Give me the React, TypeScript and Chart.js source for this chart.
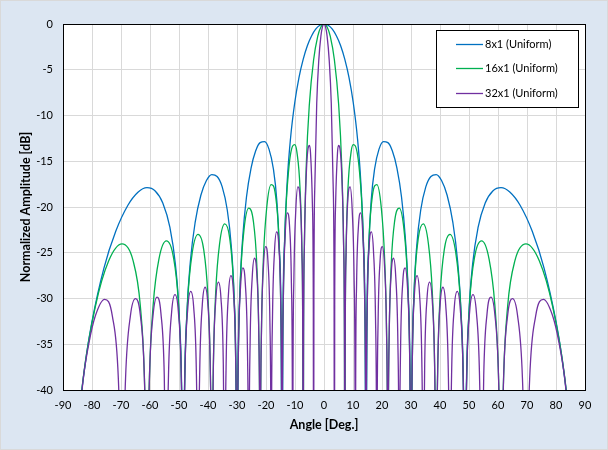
import React, { useEffect, useRef } from 'react';
import { Chart, registerables } from 'chart.js';

Chart.register(...registerables);

// Series labels and colours
const seriesLabels = ['8x1 (Uniform)', '16x1 (Uniform)', '32x1 (Uniform)'];
const seriesColors = ['#0070C0', '#00B050', '#7030A0'];

// Axis ranges / ticks
const xMin = -90;
const xMax = 90;
const xStep = 10;
const yMin = -40;
const yMax = 0;
const yStep = 5;
const xTitle = 'Angle [Deg.]';
const yTitle = 'Normalized Amplitude [dB]';

// Values (positive half; the pattern is symmetric about 0°)
// Angle [deg]
const angles8 = [
  0, 1.43, 2.87, 4.3, 5.74, 7.18, 8.63, 10.08, 11.54, 12.71, 13.59, 14.18, 14.48,
  14.77, 15.37, 16.26, 17.46, 18.97, 20.49, 22.02, 23.58, 25.15, 26.74, 28.03, 29.02, 29.67, 30.0,
  30.33, 31.0, 32.01, 33.37, 35.1, 36.87, 38.68, 40.54, 42.46, 44.43, 46.06, 47.31, 48.16, 48.59,
  49.03, 49.91, 51.26, 53.13, 55.59, 58.21, 61.04, 64.16, 67.67, 71.81, 75.93, 80.06, 81.89, 84.27, 90,
];
// Amplitude [dB]
const db8 = [
  0, -0.14, -0.57, -1.31, -2.38, -3.87, -5.86, -8.58, -12.48, -17.34, -23.75, -33.59, -60,
  -33.92, -24.75, -19.33, -15.82, -13.68, -12.86, -12.96, -13.88, -15.74, -18.93, -23.3, -29.39, -39.02, -60,
  -39.16, -29.8, -24.12, -20.3, -17.8, -16.66, -16.46, -17.11, -18.72, -21.68, -25.87, -31.84, -41.39, -60,
  -41.44, -32.01, -26.21, -22.24, -19.57, -18.25, -17.89, -18.39, -19.84, -22.66, -26.73, -32.61, -36.1, -42.1, -60,
];

const angles16 = [
  0, 1.07, 2.15, 3.58, 5.02, 6.1, 6.75, 7.04, 7.18,
  7.33, 7.61, 8.27, 9.35, 10.08, 10.81, 12.27, 13.37, 14.03, 14.33, 14.48,
  14.63, 14.92, 15.59, 16.71, 18.21, 19.73, 20.87, 21.56, 21.87, 22.02,
  22.18, 22.49, 23.19, 24.36, 25.94, 27.55, 28.77, 29.51, 29.84, 30.0,
  30.17, 30.5, 31.25, 32.52, 34.23, 35.98, 37.32, 38.13, 38.5, 38.68,
  38.87, 39.24, 40.08, 41.49, 43.43, 45.44, 46.99, 47.95, 48.38, 48.59,
  48.81, 49.24, 50.24, 51.95, 54.34, 56.89, 58.91, 60.18, 60.75, 61.04,
  61.34, 61.94, 63.33, 65.86, 69.64, 74.27, 78.89, 83.02, 85.94, 90,
];
const db16 = [
  0, -0.32, -1.32, -3.91, -8.66, -15.35, -23.9, -33.76, -60,
  -34.1, -24.94, -17.95, -13.97, -13.19, -13.34, -16.23, -21.95, -30.04, -39.7, -60,
  -39.86, -30.53, -23.19, -18.72, -17.55, -20.0, -25.44, -33.37, -42.97, -60,
  -43.07, -33.68, -26.21, -21.54, -20.13, -22.37, -27.67, -35.52, -45.08, -60,
  -45.15, -35.72, -28.18, -23.4, -21.85, -23.96, -29.16, -36.96, -46.5, -60,
  -46.54, -37.1, -29.51, -24.64, -22.99, -25.0, -30.14, -37.9, -47.42, -60,
  -47.45, -37.99, -30.36, -25.43, -23.7, -25.64, -30.72, -38.44, -47.95, -60,
  -47.96, -38.48, -30.82, -25.84, -24.04, -25.91, -30.94, -38.63, -48.12, -60,
];

const angles32 = [
  0, 0.54, 1.07, 1.79, 2.51, 3.15, 3.48, 3.58,
  3.69, 4.01, 4.66, 5.02, 5.38, 6.1, 6.75, 7.07, 7.18,
  7.29, 7.61, 8.27, 8.99, 9.72, 10.37, 10.7, 10.81,
  10.92, 11.24, 11.9, 12.64, 13.37, 14.03, 14.37, 14.48,
  14.59, 14.92, 15.59, 16.34, 17.08, 17.76, 18.1, 18.21,
  18.32, 18.66, 19.34, 20.11, 20.87, 21.56, 21.91, 22.02,
  22.14, 22.49, 23.19, 23.97, 24.75, 25.47, 25.83, 25.94,
  26.07, 26.43, 27.15, 27.95, 28.77, 29.51, 29.88, 30.0,
  30.12, 30.5, 31.25, 32.09, 32.94, 33.71, 34.1, 34.23,
  34.37, 34.75, 35.54, 36.42, 37.32, 38.13, 38.54, 38.68,
  38.82, 39.24, 40.08, 41.01, 41.97, 42.84, 43.29, 43.43,
  43.58, 44.03, 44.93, 45.95, 46.99, 47.95, 48.43, 48.59,
  48.75, 49.24, 50.24, 51.38, 52.54, 53.62, 54.17, 54.34,
  54.54, 55.08, 56.23, 57.55, 58.91, 60.18, 60.83, 61.04,
  61.26, 61.94, 63.33, 64.99, 66.75, 68.43, 69.33, 69.64,
  69.95, 70.92, 72.98, 75.64, 78.89, 80.96, 83.02, 86.49, 90,
];
const db32 = [
  0, -0.32, -1.33, -3.92, -8.68, -17.5, -30.19, -60,
  -30.71, -19.59, -14.04, -13.27, -13.43, -16.35, -24.06, -36.31, -60,
  -36.57, -25.09, -18.94, -17.81, -20.31, -27.69, -39.8, -60,
  -39.97, -28.37, -22.0, -20.65, -22.95, -30.19, -42.22, -60,
  -42.35, -30.68, -24.19, -22.72, -24.91, -32.06, -44.05, -60,
  -44.15, -32.44, -25.87, -24.32, -26.44, -33.52, -45.49, -60,
  -45.57, -33.83, -27.21, -25.6, -27.67, -34.7, -46.65, -60,
  -46.71, -34.95, -28.29, -26.65, -28.67, -35.67, -47.6, -60,
  -47.65, -35.87, -29.18, -27.5, -29.49, -36.46, -48.38, -60,
  -48.42, -36.63, -29.91, -28.2, -30.16, -37.11, -49.01, -60,
  -49.05, -37.25, -30.51, -28.77, -30.71, -37.64, -49.53, -60,
  -49.56, -37.75, -30.98, -29.23, -31.15, -38.05, -49.94, -60,
  -49.96, -38.14, -31.36, -29.58, -31.48, -38.37, -50.24, -60,
  -50.26, -38.43, -31.63, -29.84, -31.72, -38.59, -50.46, -60,
  -50.47, -38.64, -31.82, -30.01, -31.87, -38.73, -50.59, -60,
  -50.59, -38.75, -31.92, -30.09, -31.94, -34.7, -38.78, -50.63, -60,
];

function symmetric(angles: number[], db: number[]) {
  const pts: { x: number; y: number }[] = [];
  for (let i = angles.length - 1; i > 0; i--) pts.push({ x: -angles[i], y: db[i] });
  for (let i = 0; i < angles.length; i++) pts.push({ x: angles[i], y: db[i] });
  return pts;
}

const FONT = 'Lato, "Liberation Sans", sans-serif';

const framePlugin = {
  id: 'frame',
  beforeDraw(chart: any) {
    const { ctx, width, height, chartArea: a } = chart;
    ctx.save();
    ctx.fillStyle = '#DCE6F2';
    ctx.fillRect(0, 0, width, height);
    ctx.strokeStyle = '#D9D9D9';
    ctx.lineWidth = 1;
    ctx.strokeRect(0.5, 0.5, width - 1, height - 1);
    ctx.fillStyle = '#FFFFFF';
    ctx.fillRect(a.left, a.top, a.right - a.left, a.bottom - a.top);
    ctx.restore();
  },
  afterDraw(chart: any) {
    const { ctx, chartArea: a } = chart;
    ctx.save();
    ctx.strokeStyle = '#000000';
    ctx.lineWidth = 1;
    ctx.strokeRect(a.left + 0.5, a.top + 0.5, a.right - a.left, a.bottom - a.top);

    // legend box
    const bx = 436, by = 30, bw = 142, bh = 77;
    ctx.fillStyle = '#FFFFFF';
    ctx.fillRect(bx, by, bw, bh);
    ctx.strokeRect(bx + 0.5, by + 0.5, bw, bh);
    ctx.font = `11px ${FONT}`;
    ctx.textBaseline = 'middle';
    ctx.textAlign = 'left';
    chart.data.datasets.forEach((ds: any, i: number) => {
      const y = 44 + i * 24.4;
      ctx.strokeStyle = ds.borderColor;
      ctx.lineWidth = 1.3;
      ctx.beginPath();
      ctx.moveTo(456, Math.round(y) + 0.5);
      ctx.lineTo(483, Math.round(y) + 0.5);
      ctx.stroke();
      ctx.fillStyle = '#000000';
      ctx.fillText(ds.label, 485, y + 0.5);
    });
    ctx.restore();
  },
};

export default function App() {
  const ref = useRef<HTMLCanvasElement>(null);
  useEffect(() => {
    const canvas = ref.current;
    if (!canvas) return;
    const series = [
      symmetric(angles8, db8),
      symmetric(angles16, db16),
      symmetric(angles32, db32),
    ];
    const chart = new Chart(canvas, {
      type: 'line',
      data: {
        datasets: series.map((pts, i) => ({
          label: seriesLabels[i],
          data: pts,
          borderColor: seriesColors[i],
          backgroundColor: seriesColors[i],
          borderWidth: 1.3,
          pointRadius: 0,
          pointHoverRadius: 0,
          fill: false,
          cubicInterpolationMode: 'monotone' as const,
          order: 3 - i,
        })),
      },
      options: {
        responsive: false,
        animation: false,
        events: [],
        layout: { padding: { top: 24, right: 23, bottom: 0, left: 0 } },
        plugins: {
          legend: { display: false },
          tooltip: { enabled: false },
        },
        scales: {
          x: {
            type: 'linear',
            min: xMin,
            max: xMax,
            afterFit: (s: any) => { s.height = 60; },
            ticks: {
              stepSize: xStep,
              autoSkip: false,
              maxRotation: 0,
              padding: 9,
              color: '#000000',
              font: { family: FONT, size: 11 },
            },
            grid: { color: '#D9D9D9', lineWidth: 1, drawTicks: false },
            border: { display: true, color: '#000000', width: 1 },
            title: {
              display: true,
              text: xTitle,
              color: '#000000',
              font: { family: FONT, size: 12.5, weight: 'bold' },
              padding: { top: 0, bottom: 17.5 },
            },
          },
          y: {
            type: 'linear',
            min: yMin,
            max: yMax,
            afterFit: (s: any) => { s.width = 63; },
            ticks: {
              stepSize: yStep,
              padding: 10,
              color: '#000000',
              font: { family: FONT, size: 11 },
            },
            grid: { color: '#D9D9D9', lineWidth: 1, drawTicks: false },
            border: { display: true, color: '#000000', width: 1 },
            title: {
              display: true,
              text: yTitle,
              color: '#000000',
              font: { family: FONT, size: 12.5, weight: 'bold' },
              padding: { top: 18, bottom: 0 },
            },
          },
        },
      },
      plugins: [framePlugin],
    });
    return () => chart.destroy();
  }, []);
  return (
    <div style={{ position: 'absolute', left: 0, top: 0, width: 608, height: 450 }}>
      <canvas ref={ref} width={608} height={450} style={{ display: 'block' }} />
    </div>
  );
}
